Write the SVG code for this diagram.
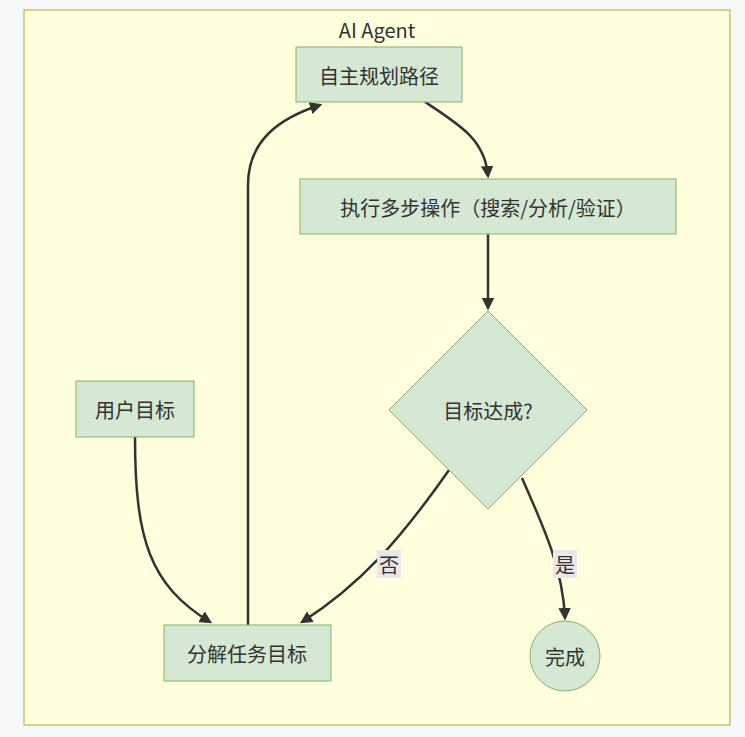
<svg xmlns="http://www.w3.org/2000/svg" width="745" height="737" viewBox="0 0 745 737">
<style>
.n{fill:#d5e8d4;stroke:#82b366;stroke-width:1}
.t{font-family:"Noto Sans CJK SC","Noto Sans",sans-serif;font-size:20px;fill:#333;text-anchor:middle;dominant-baseline:central}
.c{fill:none;stroke:#333;stroke-width:2.5}
.lb{fill:#e8e8e8}
</style>
<defs><marker id="a" viewBox="0 0 10 10" refX="8" refY="5" markerWidth="5" markerHeight="5" orient="auto"><path d="M0,0L10,5L0,10z" fill="#333"/></marker></defs>
<rect width="745" height="737" fill="#f7f8fa"/>
<rect x="24" y="10" width="706" height="715" fill="#ffffde" stroke="#aaaa33"/>
<text class="t" x="377" y="29">AI Agent</text>
<g id="connectors">
<path class="c" d="M425,102 C460,125 485,140 488,176" marker-end="url(#a)"/>
<path class="c" d="M488,234 L488,308" marker-end="url(#a)"/>
<path class="c" d="M449,470 C400,540 360,585 302,622" marker-end="url(#a)"/>
<path class="c" d="M522,478 C545,530 563,570 565,618" marker-end="url(#a)"/>
<path class="c" d="M135,437 C135,540 150,585 210,622" marker-end="url(#a)"/>
<path class="c" d="M248,625 L248,185 C248,140 280,118 320,105" marker-end="url(#a)"/>
<rect class="lb" x="377" y="550" width="24" height="28"/><text class="t" x="389" y="564">否</text>
<rect class="lb" x="553" y="550" width="24" height="28"/><text class="t" x="565" y="564">是</text>
</g>
<g id="n1"><rect class="n" x="296" y="47" width="166" height="55"/><text class="t" x="379" y="75">自主规划路径</text></g>
<g id="n2"><rect class="n" x="300" y="179" width="376" height="55"/><text class="t" x="488" y="207">执行多步操作（搜索/分析/验证）</text></g>
<g id="n3"><polygon class="n" points="488,311 587,410 488,509 389,410"/><text class="t" x="488" y="410">目标达成?</text></g>
<g id="n4"><rect class="n" x="76" y="381" width="118" height="56"/><text class="t" x="135" y="409">用户目标</text></g>
<g id="n5"><rect class="n" x="164" y="625" width="167" height="56"/><text class="t" x="247" y="653">分解任务目标</text></g>
<g id="n6"><circle class="n" cx="565" cy="656" r="35"/><text class="t" x="565" y="656">完成</text></g>
</svg>
